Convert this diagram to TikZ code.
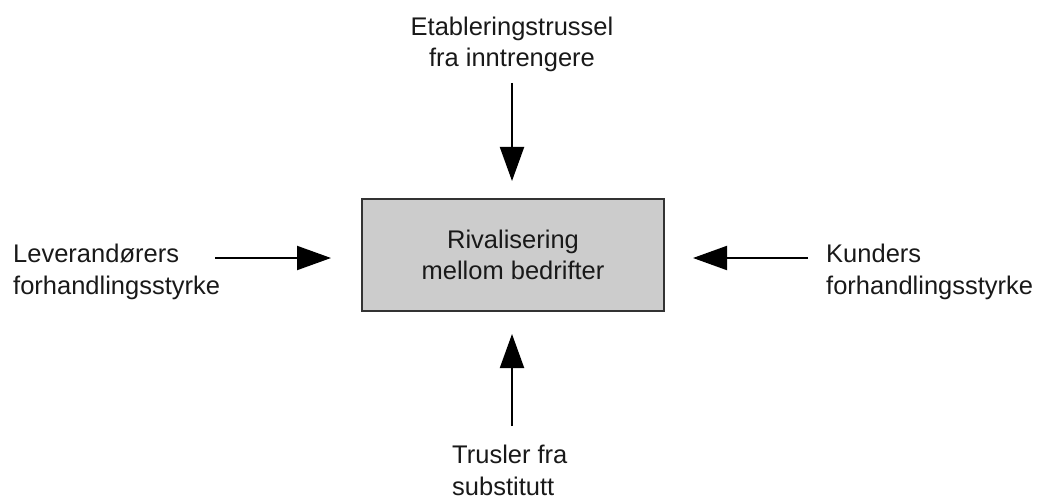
\documentclass[tikz,border=0pt]{standalone}
\usepackage{fontspec}
\setmainfont{Liberation Sans}
\usetikzlibrary{arrows.meta}
\begin{document}
\begin{tikzpicture}[x=1pt,y=-1pt,
  lbl/.style={font=\fontsize{25.5}{31.5}\selectfont, inner sep=0pt, text=black!90},
  force/.style={line width=2pt, -{Triangle[width=24pt,length=34pt]}},
  core/.style={lbl, draw=black!80, line width=2pt, fill=black!20,
    minimum width=302pt, minimum height=112pt, align=center}]
\useasboundingbox (0,0) rectangle (1040,497);

% central box
\node[core] (rival) at (513,255) {Rivalisering\\mellom bedrifter};

% the four surrounding forces (anchored at the baseline of their last line)
\node[lbl, align=center, anchor=base] (entrants) at (512,67) {Etableringstrussel\\fra inntrengere};
\node[lbl, align=left, anchor=base west] (suppliers) at (13,294) {Leverandørers\\forhandlingsstyrke};
\node[lbl, align=left, anchor=base west] (buyers) at (826,294) {Kunders\\forhandlingsstyrke};
\node[lbl, align=left, anchor=base west] (substitutes) at (452,495) {Trusler fra\\substitutt};

% start points of the arrows
\coordinate (entrants-in) at (512,83);
\coordinate (suppliers-in) at (215,258);
\coordinate (buyers-in) at (808,258);
\coordinate (substitutes-in) at (512,426);

\draw[force, shorten >=17pt] (entrants-in) -- (entrants-in |- rival.north);
\draw[force, shorten >=30pt] (suppliers-in) -- (suppliers-in -| rival.west);
\draw[force, shorten >=28pt] (buyers-in) -- (buyers-in -| rival.east);
\draw[force, shorten >=22pt] (substitutes-in) -- (substitutes-in |- rival.south);
\end{tikzpicture}
\end{document}
